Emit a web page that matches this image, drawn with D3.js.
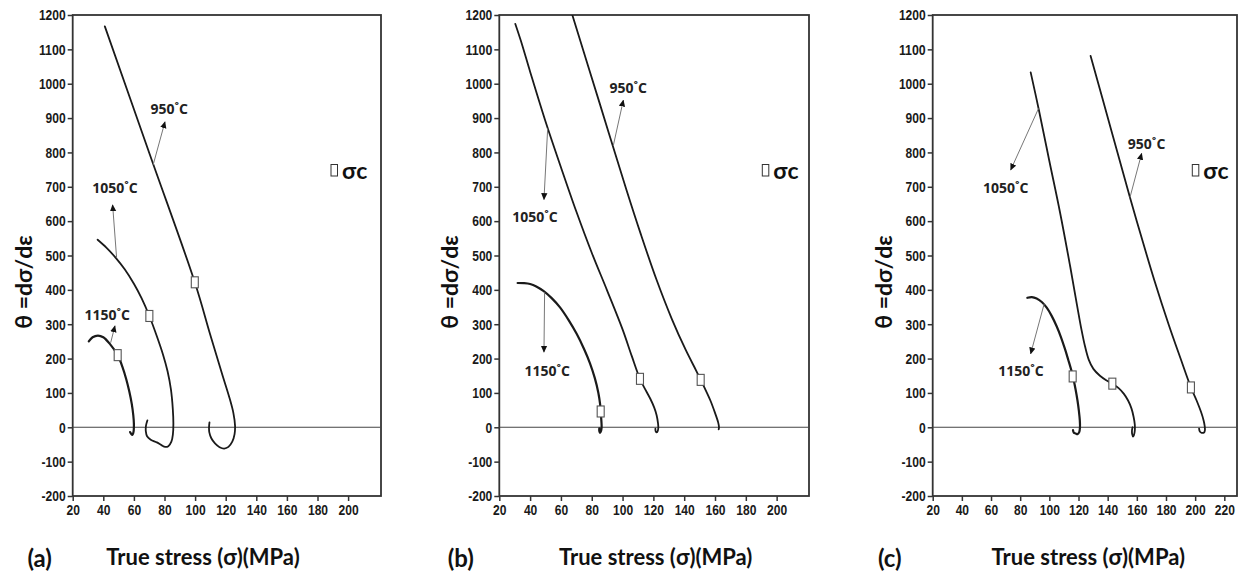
<!DOCTYPE html>
<html>
<head>
<meta charset="utf-8">
<script src="https://cdn.jsdelivr.net/npm/d3@7"></script>
<style>
  html, body { margin: 0; padding: 0; background: #fff; }
  svg { display: block; }
  .tick text { font-family: "Liberation Sans", Arial, sans-serif; font-weight: bold; font-size: 15px; fill: #1a1a1a; }
  .tick line { stroke: #333; stroke-width: 1.5; }
  .title { font-family: Lato, "Open Sans", "Liberation Sans", sans-serif; font-weight: bold; fill: #111; }
  .temp { font-family: "Open Sans", "Noto Sans", sans-serif; font-weight: bold; font-size: 14px; fill: #222; }
</style>
</head>
<body>
<svg id="chart" width="1239" height="574"></svg>
<script>
// ---- tick labels ----
const thetaTicks = [-200, -100, 0, 100, 200, 300, 400, 500, 600, 700, 800, 900, 1000, 1100, 1200];
const stressTicksAB = [20, 40, 60, 80, 100, 120, 140, 160, 180, 200];
const stressTicksC = [20, 40, 60, 80, 100, 120, 140, 160, 180, 200, 220];
const temperatures = ["950˚C", "1050˚C", "1150˚C"];
const panelLetters = ["(a)", "(b)", "(c)"];

// ---- work-hardening rate θ vs true stress σ, [σ (MPa), θ (MPa)] ----
const a950 = [[41,1167],[70.4,794],[99.8,422],[110,268],[118,150],[122.5,85],[125,42],[126.1,5],[125.8,-20],[124.3,-42],[121.8,-57],[119,-62],[116,-58],[113,-47],[110.6,-32],[109.3,-15],[109.1,0],[109.4,14]];
const a1050 = [[36.3,546],[42,523],[48,494],[54,460],[60,418],[65,376],[70.1,324],[75,265],[79,212],[82,163],[84.2,110],[85.4,55],[85.8,10],[85.5,-20],[84.5,-42],[82.5,-55],[80.5,-57],[78,-52],[75,-44],[71,-36],[68.6,-26],[67.8,-12],[67.9,5],[68.8,20]];
const a1150 = [[30.5,250],[33,262],[36.5,267],[40,262],[44.4,242],[49.4,210],[52.5,176],[55,140],[57,104],[58.6,68],[59.6,35],[60,10],[59.9,-8],[59.5,-18],[59,-22],[58.2,-19],[57.5,-14]];

const b950 = [[67.4,1200],[85,945],[102.6,690],[112,560],[122,430],[132,315],[141,225],[148,163],[153,117],[157,78],[160,42],[162,15],[162.6,0],[162.4,-6]];
const b1050 = [[30.4,1174],[34,1125],[40,1035],[50,890],[60,757],[70,628],[80,508],[90,398],[100,285],[106,207],[111.3,141],[115,108],[118,83],[120.5,58],[122.1,35],[123,12],[123.2,0],[122.9,-10],[122.2,-15],[121.5,-12],[121.3,-4]];
const b1150 = [[31.9,420],[36,419.5],[40,417],[44,410],[48.6,397],[54,376],[59.4,349],[65,312],[70.2,272],[75,228],[78.8,187],[82,143],[84.3,100],[85.4,68],[85.9,40],[86.3,15],[86.4,0],[86.1,-10],[85.4,-16],[84.9,-11],[84.9,-3]];

const c950 = [[128.3,1081],[141.8,875],[155.3,669],[163,556],[172,428],[182,297],[190,200],[197.1,116],[201,78],[204,45],[205.8,20],[206.5,5],[206.7,-8],[206.1,-15],[204.5,-16],[203.2,-12],[202.7,-4]];
const c1050 = [[87.2,1033],[93,920],[100,775],[107.3,626],[114,475],[119,355],[122,285],[124.5,235],[127,197],[130.2,170],[134.7,150],[139,137],[143.2,127],[147.5,114],[151,98],[154,78],[156.3,55],[157.8,30],[158.6,8],[158.6,-10],[158,-23],[157.4,-27],[156.8,-20],[156.7,-8],[157.1,0]];
const c1150 = [[84.9,377],[88,379],[91.3,375],[95,364],[98.2,348],[101.5,325],[105,294],[108,262],[110.7,228],[113,196],[115,167],[116.5,141],[118,110],[119.3,78],[120.3,46],[120.9,20],[121,0],[120.5,-14],[119.3,-20],[118,-18],[116.8,-16],[116.2,-8]];

// ---- critical stress σc on each curve, order 950 / 1050 / 1150 ----
const sigmaC_a = [[99.8,422],[70.1,324],[49.4,210]];
const sigmaC_b = [[150.7,138],[111.3,141],[85.8,46]];
const sigmaC_c = [[197.1,116],[143.2,127],[116,148]];

// ---- panel layout (pixels) and annotation anchors (data units) ----
const panels = [
  { left: 72.7, right: 381, xMax: 221.5, ticks: stressTicksAB,
    curves: [a950, a1050, a1150], crit: sigmaC_a,
    xTitle: 203, letter: 39.7, legend: 331,
    notes: [ { text: [83.1, 928], from: [72.6, 764], to: [80.3, 889] },
             { text: [47.6, 697], from: [48.7, 493], to: [46.1, 647] },
             { text: [42.6, 327], from: [44.8, 246], to: [47.6, 295] } ] },
  { left: 499.3, right: 809, xMax: 221, ticks: stressTicksAB,
    curves: [b950, b1050, b1150], crit: sigmaC_b,
    xTitle: 655.7, letter: 460.8, legend: 762.3,
    notes: [ { text: [103.7, 990], from: [94, 820], to: [100.5, 952] },
             { text: [43.2, 613], from: [51.4, 870], to: [49, 663] },
             { text: [51.1, 164], from: [49.4, 393], to: [49, 219] } ] },
  { left: 932.7, right: 1237, xMax: 228.7, ticks: stressTicksC,
    curves: [c950, c1050, c1150], crit: sigmaC_c,
    xTitle: 1088.3, letter: 889.7, legend: 1192.3,
    notes: [ { text: [166.7, 826], from: [155.3, 669], to: [163.3, 797] },
             { text: [70.1, 698], from: [92.6, 928], to: [73.5, 749] },
             { text: [80.5, 164], from: [96.5, 360], to: [87.2, 214] } ] }
];
const TOP = 15, BOTTOM = 496;

// condensed look for the numeric tick labels
const glyphW = ch => (ch === "-" ? 4 : 6.7);
function condense(sel) {
  sel.selectAll(".tick text").each(function () {
    const t = d3.select(this).text();
    d3.select(this).attr("textLength", d3.sum(t.split(""), glyphW))
      .attr("lengthAdjust", "spacingAndGlyphs");
  });
}

const svg = d3.select("#chart");
svg.append("rect").attr("width", 1239).attr("height", 574).attr("fill", "#fff");

const defs = svg.append("defs");
defs.append("marker")
  .attr("id", "head").attr("viewBox", "0 0 10 10")
  .attr("refX", 9).attr("refY", 5)
  .attr("markerWidth", 7).attr("markerHeight", 7)
  .attr("markerUnits", "userSpaceOnUse").attr("orient", "auto")
  .append("path").attr("d", "M0,0.5 L10,5 L0,9.5 Z").attr("fill", "#111");

panels.forEach((p, i) => {
  const x = d3.scaleLinear().domain([20, p.xMax]).range([p.left, p.right]);
  const y = d3.scaleLinear().domain([-200, 1200]).range([BOTTOM, TOP]);
  const g = svg.append("g");

  defs.append("clipPath").attr("id", "clip" + i)
    .append("rect").attr("x", p.left).attr("y", TOP)
    .attr("width", p.right - p.left).attr("height", BOTTOM - TOP);

  // axes
  const ax = g.append("g").attr("transform", `translate(0,${BOTTOM})`)
    .call(d3.axisBottom(x).tickValues(p.ticks).tickFormat(d => String(d))
      .tickSize(5).tickSizeOuter(0).tickPadding(3));
  const ay = g.append("g").attr("transform", `translate(${p.left},0)`)
    .call(d3.axisLeft(y).tickValues(thetaTicks).tickFormat(d => String(d))
      .tickSize(5).tickSizeOuter(0).tickPadding(2));
  ax.select(".domain").remove();
  ay.select(".domain").remove();
  condense(ax);
  condense(ay);

  // frame
  g.append("rect")
    .attr("x", p.left).attr("y", TOP)
    .attr("width", p.right - p.left).attr("height", BOTTOM - TOP)
    .attr("fill", "none").attr("stroke", "#333").attr("stroke-width", 1.8);

  // zero line
  g.append("line")
    .attr("x1", p.left).attr("x2", p.right)
    .attr("y1", y(0)).attr("y2", y(0))
    .attr("stroke", "#444").attr("stroke-width", 1.1);

  // curves
  const line = d3.line().x(d => x(d[0])).y(d => y(d[1])).curve(d3.curveCatmullRom.alpha(0.5));
  const cg = g.append("g").attr("clip-path", `url(#clip${i})`);
  p.curves.forEach((c, k) => {
    cg.append("path").datum(c)
      .attr("d", line)
      .attr("fill", "none").attr("stroke", "#1a1a1a")
      .attr("stroke-width", k === 2 ? 2.2 : 1.8)
      .attr("stroke-linejoin", "round").attr("stroke-linecap", "round");
  });

  // σc markers
  g.selectAll(".crit").data(p.crit).join("rect")
    .attr("x", d => x(d[0]) - 3.5).attr("y", d => y(d[1]) - 5.5)
    .attr("width", 7).attr("height", 11)
    .attr("fill", "#fff").attr("stroke", "#555").attr("stroke-width", 1.1);

  // temperature callouts
  p.notes.forEach((n, k) => {
    g.append("line")
      .attr("x1", x(n.from[0])).attr("y1", y(n.from[1]))
      .attr("x2", x(n.to[0])).attr("y2", y(n.to[1]))
      .attr("stroke", "#777").attr("stroke-width", 1)
      .attr("marker-end", "url(#head)");
    g.append("text").attr("class", "temp")
      .attr("x", x(n.text[0])).attr("y", y(n.text[1]))
      .attr("text-anchor", "middle").attr("dominant-baseline", "central")
      .text(temperatures[k]);
  });

  // legend
  g.append("rect").attr("x", p.legend).attr("y", 164.5)
    .attr("width", 6.5).attr("height", 11.5)
    .attr("fill", "#fff").attr("stroke", "#333").attr("stroke-width", 1);
  g.append("text").attr("class", "title")
    .attr("x", p.legend + 11).attr("y", 170)
    .attr("dominant-baseline", "central")
    .style("font-size", "23px")
    .text("σc");

  // axis titles
  g.append("text").attr("class", "title")
    .attr("transform", `translate(${p.left - 50},282) rotate(-90)`)
    .attr("text-anchor", "middle").attr("dominant-baseline", "central")
    .style("font-size", "23px")
    .text("θ =dσ/dε");
  g.append("text").attr("class", "title")
    .attr("x", p.xTitle).attr("y", 556)
    .attr("text-anchor", "middle").attr("dominant-baseline", "central")
    .style("font-size", "22px")
    .text("True stress (σ)(MPa)");
  g.append("text").attr("class", "title")
    .attr("x", p.letter).attr("y", 557)
    .attr("text-anchor", "middle").attr("dominant-baseline", "central")
    .style("font-size", "24px")
    .text(panelLetters[i]);
});
</script>
</body>
</html>
